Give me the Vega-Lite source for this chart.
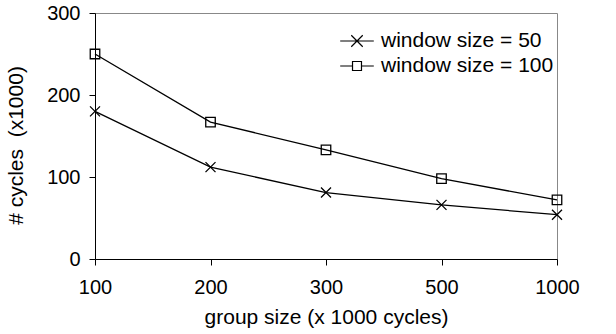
{
  "$schema": "https://vega.github.io/schema/vega-lite/v6.json",
  "width": 462,
  "height": 246,
  "autosize": {"type": "none"},
  "padding": {"left": 95, "top": 13, "right": 59, "bottom": 75},
  "config": {
    "font": "Liberation Sans",
    "view": {"stroke": "#888888", "strokeWidth": 1},
    "axis": {
      "labelFont": "Liberation Sans",
      "titleFont": "Liberation Sans",
      "labelFontSize": 20,
      "titleFontSize": 21,
      "titleFontWeight": "normal",
      "labelColor": "#000000",
      "titleColor": "#000000",
      "domainColor": "#000000",
      "tickColor": "#000000",
      "grid": false,
      "tickSize": 6
    },
    "legend": {
      "labelFont": "Liberation Sans",
      "labelFontSize": 21,
      "labelColor": "#000000",
      "labelLimit": 400
    }
  },
  "data": {
    "values": [
      {"group": "100", "series": "window size = 50", "cycles": 180},
      {"group": "200", "series": "window size = 50", "cycles": 112},
      {"group": "300", "series": "window size = 50", "cycles": 81},
      {"group": "500", "series": "window size = 50", "cycles": 66},
      {"group": "1000", "series": "window size = 50", "cycles": 54},
      {"group": "100", "series": "window size = 100", "cycles": 250},
      {"group": "200", "series": "window size = 100", "cycles": 167},
      {"group": "300", "series": "window size = 100", "cycles": 133},
      {"group": "500", "series": "window size = 100", "cycles": 98},
      {"group": "1000", "series": "window size = 100", "cycles": 72}
    ]
  },
  "encoding": {
    "x": {
      "field": "group",
      "type": "ordinal",
      "sort": ["100", "200", "300", "500", "1000"],
      "scale": {"type": "point", "padding": 0},
      "axis": {"title": "group size (x 1000 cycles)", "labelAngle": 0, "labelPadding": 12, "titlePadding": 9}
    },
    "y": {
      "field": "cycles",
      "type": "quantitative",
      "scale": {"domain": [0, 300], "nice": false},
      "axis": {"title": "# cycles \u00a0(x1000)", "values": [0, 100, 200, 300], "labelPadding": 9, "titlePadding": 20, "titleY": 132}
    }
  },
  "layer": [
    {
      "mark": {"type": "line", "color": "#000000", "strokeWidth": 1.3},
      "encoding": {"detail": {"field": "series"}}
    },
    {
      "mark": {"type": "point", "filled": false, "color": "#000000", "strokeWidth": 1.3, "size": 100, "opacity": 1},
      "encoding": {
        "shape": {
          "field": "series",
          "type": "nominal",
          "scale": {
            "domain": ["window size = 50", "window size = 100"],
            "range": ["M-1,-1L1,1M-1,1L1,-1", "M-0.95,-0.95L0.95,-0.95L0.95,0.95L-0.95,0.95Z"]
          },
          "legend": null
        }
      }
    },
    {
      "mark": {"type": "point", "filled": false, "color": "#000000", "strokeWidth": 1.2, "size": 784, "opacity": 0},
      "encoding": {
        "shape": {
          "field": "series",
          "type": "nominal",
          "scale": {
            "domain": ["window size = 50", "window size = 100"],
            "range": [
              "M-1.2,0L1.2,0M-0.41,-0.41L0.41,0.41M-0.41,0.41L0.41,-0.41",
              "M-1.2,0L-0.32,0M0.32,0L1.2,0M-0.32,-0.32L0.32,-0.32L0.32,0.32L-0.32,0.32Z"
            ]
          },
          "legend": {
            "title": null,
            "orient": "none",
            "legendX": 247,
            "legendY": 13,
            "symbolSize": 784,
            "symbolOpacity": 1,
            "symbolStrokeColor": "#000000",
            "symbolFillColor": "transparent",
            "symbolStrokeWidth": 1.2,
            "rowPadding": 0,
            "labelOffset": 9
          }
        }
      }
    }
  ],
  "resolve": {"scale": {"shape": "independent"}}
}
